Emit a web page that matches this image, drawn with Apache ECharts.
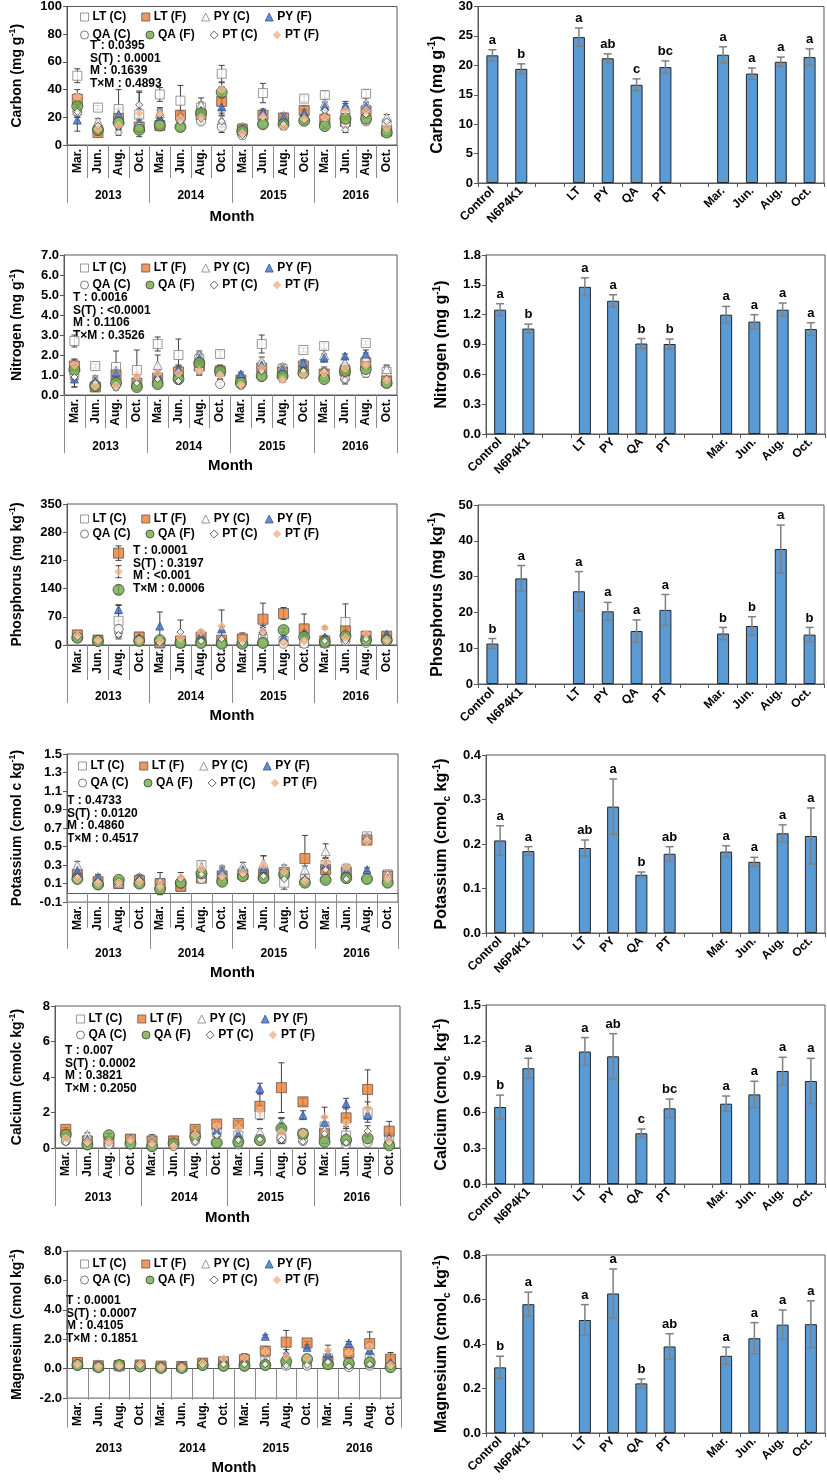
<!DOCTYPE html>
<html><head><meta charset="utf-8">
<script src="https://cdn.jsdelivr.net/npm/echarts@6/dist/echarts.min.js"></script>
<style>
html,body{margin:0;padding:0;background:#fff;}
#wrap{position:relative;width:827px;height:1480px;overflow:hidden;}
.p{position:absolute;}
</style></head><body>
<div id="wrap"></div>
<script>
// ---------------- DATA ----------------
const SERIES = ['LT (C)','LT (F)','PY (C)','PY (F)','QA (C)','QA (F)','PT (C)','PT (F)'];
const MONTH_CATS = ['Mar.','Jun.','Aug.','Oct.','Mar.','Jun.','Aug.','Oct.','Mar.','Jun.','Aug.','Oct.','Mar.','Jun.','Aug.','Oct.'];
const YEARS = ['2013','2014','2015','2016'];

// rows follow SERIES order, columns follow MONTH_CATS
const carbonMeans = [
 [50,27,26,22,36.5,32,27,51.5,12,37.5,17,33.5,36,22,37,15],
 [33,9,19,13,14,21.5,22,31.5,11,21.5,19.5,25,18.5,17,24.7,10],
 [25,17,22,15,23,20,29,18,13,22,21,22,30,26,30,20],
 [18,12,22,16,20,18,25,27.5,12,24,20,23.5,28,28.5,28,12],
 [24,12,17,13,15,13,17,13,7,15,14,18,16,15,17,10],
 [28,11,16,11,14,13,23,38,10,15,15,17.5,13.7,19,19,9],
 [24,14,9,29,22,17,19,17,7,20,15,18,25,11,22,17],
 [35,11.5,14,23,23,19,20,40,8.5,20.5,13,19,20,25,25,12.5]
];
const carbonErrs = [
 [5,1.5,14,16,5,11,4,6,3,7,3,2,3,5,3,3],
 [4,2,4,3,2,3,3,6,2,3,3,3,3,3,3,2],
 [5,2,4,3,4,3,5,5,2,3,2,3,4,4,4,2],
 [8,2,4,3,4,3,4,6,2,2,2,2,3,3,3,2],
 [3,2,3,2,2,2,2,4,1,2,2,2,2,2,2,1],
 [3,2,3,2,2,2,3,4,1,2,2,2,2,2,2,1],
 [4,2,2,10,3,3,3,4,1,3,2,2,3,2,3,2],
 [5,2,3,3,3,3,3,5,1,3,2,2,3,3,4,2]
];
const nitrogenMeans = [
 [2.7,1.45,1.4,1.25,2.55,2.0,1.8,2.05,0.7,2.55,1.3,2.25,2.45,1.3,2.6,1.15],
 [1.45,0.4,1.0,0.6,0.85,1.15,1.45,1.2,0.75,1.35,1.15,1.45,1.05,1.2,1.6,0.7],
 [1.0,0.8,1.2,0.8,1.5,1.2,2.0,1.3,0.9,1.7,1.4,1.6,2.0,1.6,1.9,1.3],
 [0.8,0.7,1.1,0.65,1.0,1.3,1.85,1.25,1.05,1.5,1.3,1.6,1.85,1.95,2.05,0.8],
 [1.0,0.5,0.5,0.5,0.6,0.75,1.3,0.55,0.5,0.9,0.85,1.05,0.9,0.8,1.1,0.6],
 [1.25,0.45,0.6,0.4,0.55,0.8,1.6,1.2,0.6,0.95,0.95,1.1,0.8,1.2,1.3,0.6],
 [0.9,0.6,0.35,0.6,0.8,0.7,1.2,1.0,0.5,1.2,0.75,1.2,1.2,0.75,1.5,0.8],
 [1.5,0.45,0.45,0.95,1.1,1.1,1.2,1.0,0.5,1.35,0.75,1.0,1.1,1.35,1.5,0.75]
];
const nitrogenErrs = [
 [0.3,0.1,0.8,1.0,0.35,0.8,0.3,0.15,0.15,0.45,0.2,0.1,0.15,0.3,0.1,0.3],
 [0.3,0.1,0.2,0.15,0.2,0.3,0.3,0.2,0.1,0.2,0.2,0.15,0.2,0.2,0.2,0.1],
 [0.3,0.15,0.2,0.15,0.5,0.2,0.2,0.2,0.15,0.2,0.15,0.15,0.3,0.2,0.2,0.2],
 [0.4,0.15,0.2,0.15,0.2,0.2,0.2,0.2,0.1,0.2,0.15,0.15,0.2,0.1,0.2,0.15],
 [0.2,0.1,0.1,0.1,0.1,0.1,0.2,0.1,0.1,0.15,0.1,0.1,0.1,0.1,0.2,0.1],
 [0.2,0.1,0.1,0.1,0.1,0.1,0.2,0.2,0.1,0.15,0.1,0.1,0.1,0.1,0.2,0.1],
 [0.5,0.1,0.1,0.2,0.2,0.1,0.2,0.2,0.1,0.2,0.1,0.1,0.2,0.2,0.3,0.2],
 [0.3,0.1,0.1,0.2,0.2,0.15,0.2,0.2,0.1,0.2,0.1,0.1,0.2,0.2,0.2,0.15]
];
const phosphorusMeans = [
 [25,13,60,20,5,5,10,5,15,15,10,5,5,57,15,15],
 [25,12,228,20,5,10,20,12,15,64,78,40,10,35,22,22],
 [22,10,40,18,10,10,10,10,5,20,10,10,10,20,20,20],
 [22,10,88,18,47,10,25,40,5,40,20,30,20,25,20,27],
 [18,8,40,10,5,5,5,3,3,5,3,3,3,10,5,10],
 [18,10,137,10,12,5,5,3,3,5,37,20,8,22,12,12],
 [20,10,25,12,5,32,10,15,5,30,8,10,10,10,15,10],
 [24,12,182,12,10,17,33,47,12,35,5,10,43,18,28,12]
];
const phosphorusErrs = [
 [3,2,40,3,3,3,4,3,15,5,10,3,3,45,4,4],
 [3,2,18,3,3,3,5,5,3,40,15,37,4,5,4,4],
 [3,2,20,3,4,3,4,4,2,5,3,3,3,4,4,4],
 [3,2,10,3,35,3,4,5,2,8,5,5,4,4,4,4],
 [2,1,10,2,2,2,2,1,1,2,1,1,1,3,2,2],
 [2,1,10,2,3,2,2,1,1,2,5,5,2,4,3,3],
 [3,2,10,3,3,30,4,4,2,8,3,3,3,3,4,3],
 [3,2,15,3,3,4,4,40,3,8,2,3,3,3,4,3]
];
const potassiumMeans = [
 [0.2,0.12,0.1,0.14,0.1,0.07,0.3,0.19,0.21,0.22,0.11,0.15,0.3,0.25,0.61,0.2],
 [0.2,0.12,0.1,0.13,0.1,0.07,0.16,0.18,0.2,0.2,0.22,0.37,0.25,0.22,0.57,0.18],
 [0.3,0.17,0.13,0.17,0.12,0.14,0.28,0.26,0.29,0.32,0.27,0.25,0.45,0.27,0.6,0.2],
 [0.24,0.16,0.12,0.16,0.08,0.12,0.2,0.24,0.25,0.26,0.24,0.15,0.3,0.24,0.25,0.16],
 [0.15,0.09,0.1,0.1,0.05,0.1,0.15,0.13,0.18,0.16,0.2,0.12,0.15,0.15,0.15,0.11],
 [0.15,0.09,0.14,0.1,0.04,0.11,0.21,0.12,0.18,0.16,0.2,0.11,0.14,0.16,0.15,0.11],
 [0.17,0.12,0.1,0.14,0.07,0.15,0.2,0.17,0.2,0.18,0.15,0.14,0.25,0.15,0.58,0.15],
 [0.15,0.11,0.11,0.12,0.07,0.17,0.26,0.18,0.22,0.3,0.23,0.13,0.33,0.28,0.56,0.15]
];
const potassiumErrs = [
 [0.03,0.02,0.02,0.02,0.12,0.02,0.04,0.03,0.03,0.03,0.07,0.03,0.04,0.03,0.03,0.03],
 [0.03,0.02,0.02,0.02,0.05,0.02,0.03,0.03,0.03,0.03,0.03,0.25,0.04,0.03,0.03,0.03],
 [0.04,0.03,0.02,0.03,0.02,0.03,0.04,0.03,0.04,0.08,0.03,0.04,0.08,0.03,0.03,0.03],
 [0.04,0.03,0.02,0.03,0.02,0.03,0.03,0.03,0.03,0.03,0.03,0.03,0.04,0.03,0.02,0.03],
 [0.02,0.02,0.02,0.02,0.02,0.02,0.02,0.02,0.02,0.02,0.02,0.02,0.02,0.02,0.02,0.02],
 [0.02,0.02,0.02,0.02,0.02,0.02,0.03,0.02,0.02,0.02,0.02,0.02,0.02,0.02,0.02,0.02],
 [0.03,0.02,0.02,0.02,0.02,0.02,0.03,0.02,0.03,0.03,0.02,0.02,0.03,0.03,0.03,0.02],
 [0.03,0.02,0.02,0.02,0.02,0.05,0.03,0.03,0.03,0.1,0.03,0.02,0.05,0.03,0.03,0.02]
];
const calciumMeans = [
 [0.8,0.4,0.4,0.5,0.4,0.4,0.8,1.0,0.7,1.9,0.55,0.8,1.2,0.7,2.0,0.6],
 [1.05,0.4,0.35,0.5,0.4,0.4,1.05,1.35,1.38,2.35,3.4,2.6,0.8,1.7,3.3,0.95],
 [0.6,0.75,0.5,0.55,0.5,0.35,0.9,0.9,0.6,0.9,1.4,0.8,1.0,0.6,1.9,0.5],
 [0.6,0.5,0.4,0.5,0.35,0.3,0.7,1.0,0.8,3.35,1.25,1.85,1.45,2.5,1.85,0.6],
 [0.4,0.15,0.2,0.2,0.1,0.1,0.4,0.3,0.2,0.4,0.55,0.4,0.5,0.2,0.3,0.2],
 [0.75,0.2,0.72,0.25,0.1,0.25,0.65,0.3,0.35,0.45,1.1,0.8,0.35,0.45,0.55,0.15],
 [0.3,0.25,0.3,0.4,0.2,0.15,0.35,0.7,0.45,0.5,0.45,0.35,0.8,0.3,0.95,0.3],
 [0.55,0.35,0.35,0.45,0.25,0.1,0.75,1.25,1.1,2.1,0.9,0.85,1.75,1.4,2.2,0.45]
];
const calciumErrs = [
 [0.1,0.1,0.1,0.1,0.1,0.1,0.15,0.15,0.15,0.3,0.3,0.15,0.5,0.5,0.3,0.2],
 [0.1,0.1,0.1,0.1,0.35,0.1,0.15,0.15,0.15,0.7,1.4,0.2,0.3,0.6,1.1,0.55],
 [0.1,0.1,0.1,0.1,0.1,0.1,0.15,0.15,0.1,0.2,0.3,0.15,0.3,0.2,0.3,0.1],
 [0.1,0.1,0.1,0.1,0.1,0.1,0.15,0.15,0.1,0.3,0.4,0.25,0.3,0.3,0.4,0.1],
 [0.1,0.05,0.05,0.05,0.05,0.05,0.1,0.05,0.05,0.1,0.3,0.1,0.1,0.1,0.1,0.05],
 [0.1,0.05,0.1,0.05,0.05,0.05,0.1,0.05,0.05,0.1,0.6,0.15,0.1,0.1,0.15,0.05],
 [0.1,0.05,0.1,0.1,0.05,0.05,0.1,0.1,0.1,0.2,0.2,0.1,0.2,0.1,0.3,0.1],
 [0.1,0.1,0.1,0.1,0.05,0.05,0.15,0.15,0.15,0.3,0.3,0.15,0.55,0.3,0.4,0.1]
];
const magnesiumMeans = [
 [0.4,0.2,0.25,0.25,0.15,0.15,0.35,0.5,0.5,0.5,0.3,0.4,0.7,0.4,0.7,0.5],
 [0.42,0.2,0.2,0.25,0.18,0.15,0.38,0.45,0.62,1.2,1.8,1.75,0.5,1.1,1.7,0.65],
 [0.35,0.3,0.3,0.3,0.15,0.15,0.4,0.5,0.5,0.5,0.5,0.5,0.6,0.3,0.7,0.4],
 [0.3,0.25,0.2,0.25,0.1,0.12,0.35,0.55,0.5,2.2,1.0,1.45,1.0,1.75,1.25,0.4],
 [0.2,0.1,0.1,0.1,0.05,0.05,0.2,0.15,0.15,0.2,0.2,0.2,0.3,0.1,0.2,0.1],
 [0.25,0.1,0.25,0.15,0.05,0.05,0.25,0.2,0.2,0.25,0.5,0.65,0.3,0.35,0.42,0.1],
 [0.25,0.15,0.15,0.2,0.1,0.1,0.25,0.3,0.3,0.3,0.2,0.25,0.45,0.15,0.3,0.15],
 [0.3,0.15,0.2,0.3,0.1,0.1,0.38,0.7,0.75,1.15,0.85,0.7,1.25,1.1,1.5,0.25]
];
const magnesiumErrs = [
 [0.05,0.05,0.05,0.05,0.05,0.05,0.05,0.1,0.1,0.2,0.1,0.1,0.2,0.2,0.2,0.1],
 [0.05,0.05,0.05,0.05,0.05,0.05,0.05,0.1,0.4,0.3,0.8,0.1,0.2,0.3,0.8,0.45],
 [0.05,0.05,0.05,0.05,0.05,0.05,0.05,0.1,0.1,0.1,0.1,0.1,0.1,0.1,0.1,0.1],
 [0.05,0.05,0.05,0.05,0.05,0.05,0.05,0.1,0.1,0.1,0.3,0.1,0.2,0.1,0.2,0.1],
 [0.03,0.03,0.03,0.03,0.03,0.03,0.03,0.05,0.05,0.05,0.05,0.05,0.05,0.05,0.05,0.05],
 [0.05,0.03,0.05,0.03,0.03,0.03,0.05,0.05,0.05,0.05,0.3,0.1,0.05,0.1,0.1,0.05],
 [0.05,0.03,0.03,0.05,0.03,0.03,0.05,0.05,0.05,0.05,0.05,0.05,0.1,0.05,0.1,0.05],
 [0.05,0.05,0.05,0.05,0.03,0.03,0.05,0.1,0.1,0.2,0.2,0.1,0.35,0.2,0.3,0.1]
];

const STATS = [
 ['T : 0.0395','S(T) : 0.0001','M : 0.1639','T×M : 0.4893'],
 ['T : 0.0016','S(T) : <0.0001','M : 0.1106','T×M : 0.3526'],
 ['T : 0.0001','S(T) : 0.3197','M : <0.001','T×M : 0.0006'],
 ['T : 0.4733','S(T) : 0.0120','M : 0.4860','T×M : 0.4517'],
 ['T : 0.007','S(T) : 0.0002','M : 0.3821','T×M : 0.2050'],
 ['T : 0.0001','S(T) : 0.0007','M : 0.4105','T×M : 0.1851']
];
const LEFT_YNAMES = ['Carbon (mg g{sup|-1})','Nitrogen (mg g{sup|-1})','Phosphorus (mg kg{sup|-1})','Potassium (cmol c kg{sup|-1})','Calcium (cmolc kg{sup|-1})','Magnesium (cmol kg{sup|-1})'];
const LEFT_YAXES = [
 {min:0,max:100,interval:20,dec:0},
 {min:0,max:7,interval:1,dec:1},
 {min:0,max:350,interval:70,dec:0},
 {min:-0.1,max:1.5,interval:0.2,dec:1},
 {min:0,max:8,interval:2,dec:0},
 {min:-2,max:8,interval:2,dec:1}
];

const BAR_CATS = ['Control','N6P4K1','','LT','PY','QA','PT',' ','Mar.','Jun.','Aug.','Oct.'];
const carbonBar = [21.7,19.4,null,24.8,21.2,16.7,19.7,null,21.8,18.6,20.6,21.4];
const carbonBarErr = [0.95,0.85,null,1.55,0.75,1.0,1.05,null,1.35,0.95,0.8,1.4];
const carbonLetters = ['a','b','','a','ab','c','bc','','a','a','a','a'];
const nitrogenBar = [1.25,1.06,null,1.48,1.34,0.91,0.905,null,1.20,1.13,1.25,1.055];
const nitrogenBarErr = [0.06,0.045,null,0.09,0.06,0.05,0.05,null,0.083,0.07,0.067,0.064];
const nitrogenLetters = ['a','b','','a','a','b','b','','a','a','a','a'];
const phosphorusBar = [11.3,29.5,null,25.9,20.3,14.8,20.7,null,14.1,16.2,37.7,13.8];
const phosphorusBarErr = [1.4,3.6,null,5.5,2.5,3.1,4.3,null,1.7,2.6,6.7,2.0];
const phosphorusLetters = ['b','a','','a','a','a','a','','b','b','a','b'];
const potassiumBar = [0.208,0.184,null,0.191,0.284,0.131,0.178,null,0.183,0.160,0.224,0.218];
const potassiumBarErr = [0.033,0.01,null,0.018,0.062,0.006,0.016,null,0.013,0.01,0.019,0.063];
const potassiumLetters = ['a','a','','ab','a','b','ab','','a','a','a','a'];
const calciumBar = [0.645,0.97,null,1.11,1.07,0.425,0.634,null,0.673,0.751,0.947,0.863];
const calciumBarErr = [0.1,0.084,null,0.117,0.19,0.036,0.078,null,0.064,0.11,0.115,0.19];
const calciumLetters = ['b','a','','a','ab','c','bc','','a','a','a','a'];
const magnesiumBar = [0.295,0.579,null,0.508,0.627,0.223,0.389,null,0.347,0.426,0.487,0.489];
const magnesiumBarErr = [0.05,0.054,null,0.069,0.11,0.02,0.057,null,0.039,0.07,0.066,0.105];
const magnesiumLetters = ['b','a','','a','a','b','ab','','a','a','a','a'];
const RIGHT_YNAMES = ['Carbon (mg g{sup|-1})','Nitrogen (mg g{sup|-1})','Phosphorus (mg kg{sup|-1})','Potassium (cmol{sub|c} kg{sup|-1})','Calcium (cmol{sub|c} kg{sup|-1})','Magnesium (cmol{sub|c} kg{sup|-1})'];
const RIGHT_YAXES = [
 {min:0,max:30,interval:5,dec:0},
 {min:0,max:1.8,interval:0.3,dec:1},
 {min:0,max:50,interval:10,dec:0},
 {min:0,max:0.4,interval:0.1,dec:1},
 {min:0,max:1.5,interval:0.3,dec:1},
 {min:0,max:0.8,interval:0.2,dec:1}
];

const LEFT_MEANS = [carbonMeans,nitrogenMeans,phosphorusMeans,potassiumMeans,calciumMeans,magnesiumMeans];
const LEFT_ERRS = [carbonErrs,nitrogenErrs,phosphorusErrs,potassiumErrs,calciumErrs,magnesiumErrs];
const RIGHT_VALS = [carbonBar,nitrogenBar,phosphorusBar,potassiumBar,calciumBar,magnesiumBar];
const RIGHT_ERRS = [carbonBarErr,nitrogenBarErr,phosphorusBarErr,potassiumBarErr,calciumBarErr,magnesiumBarErr];
const RIGHT_LETTERS = [carbonLetters,nitrogenLetters,phosphorusLetters,potassiumLetters,calciumLetters,magnesiumLetters];

// ---------------- LAYOUT / STYLE ----------------
const FONT = '"Liberation Sans", Arial, sans-serif';
const AXC = '#595959';
const LEFT_LAYOUT = [
 {top:0,   h:245, g:[60,13,6,100],  mTick:33, yTick:58, yMargin:45, mGap:64, nameGap:41, leg:[80,11,29], st:[90,40]},
 {top:245, h:250, g:[56,13,10,100], mTick:33, yTick:58, yMargin:46, mGap:63, nameGap:38, leg:[80,17,34], st:[73,47]},
 {top:495, h:245, g:[60,13,9,95],   mTick:35, yTick:58, yMargin:46, mGap:63, nameGap:41, leg:[80,18,33], st:[133,50]},
 {top:740, h:245, g:[57,12,14,78],  mTick:35, yTick:56, yMargin:46, mGap:62, nameGap:41, leg:[78,20,37], st:[67,55]},
 {top:985, h:245, g:[47,10,21,82],  mTick:28, yTick:58, yMargin:44, mGap:62, nameGap:29, leg:[76,28,44], st:[65,60]},
 {top:1230,h:250, g:[60,9,21,41],   mTick:31, yTick:59, yMargin:45, mGap:56, nameGap:41, leg:[80,28,44], st:[66,65]}
];
const RIGHT_LAYOUT = [
 {top:0,   h:245, g:[68,3,6,62],   nameGap:24},
 {top:245, h:250, g:[76,2,10,61],  nameGap:32},
 {top:495, h:245, g:[68,3,10,56],  nameGap:24},
 {top:740, h:245, g:[76,2,15,52],  nameGap:32},
 {top:985, h:245, g:[76,2,20,46],  nameGap:32},
 {top:1230,h:250, g:[76,2,25,47],  nameGap:32}
];
const SYM = [
 {symbol:'rect', size:9, style:{color:'#ffffff', borderColor:'#7f7f7f', borderWidth:1}},
 {symbol:'rect', size:10, style:{color:'#ED7D31', borderColor:'#595959', borderWidth:1}},
 {symbol:'triangle', size:9, style:{color:'#ffffff', borderColor:'#7f7f7f', borderWidth:1}},
 {symbol:'triangle', size:8, style:{color:'#4472C4', borderColor:'#2F5597', borderWidth:1}},
 {symbol:'circle', size:9, style:{color:'#ffffff', borderColor:'#595959', borderWidth:1}},
 {symbol:'circle', size:11, style:{color:'#70AD47', borderColor:'#404040', borderWidth:1}},
 {symbol:'diamond', size:7, style:{color:'#ffffff', borderColor:'#404040', borderWidth:1}},
 {symbol:'diamond', size:8, style:{color:'#F4B183', borderColor:'#F8CBAD', borderWidth:1}}
];

const wrap = document.getElementById('wrap');
function mkDiv(left, top, w, h) {
  const d = document.createElement('div');
  d.className = 'p';
  d.style.left = left + 'px'; d.style.top = top + 'px';
  d.style.width = w + 'px'; d.style.height = h + 'px';
  wrap.appendChild(d);
  return d;
}
function nameStyle(size) {
  const sm = Math.round(size * 0.62);
  return {
    fontSize: size, fontWeight: 'bold', color: '#000', fontFamily: FONT, lineHeight: size + 4,
    rich: {
      sup: {fontSize: sm, fontWeight: 'bold', color: '#000', fontFamily: FONT, verticalAlign: 'top', lineHeight: size + 4},
      sub: {fontSize: sm, fontWeight: 'bold', color: '#000', fontFamily: FONT, verticalAlign: 'bottom', lineHeight: size + 4}
    }
  };
}
function yAxisOf(Y, name, gap, nameSize) {
  return {
    type: 'value', min: Y.min, max: Y.max, interval: Y.interval,
    axisLine: {show: true, onZero: false, lineStyle: {color: AXC, width: 1}},
    axisTick: {show: true, length: 4, lineStyle: {color: AXC}},
    splitLine: {show: false},
    axisLabel: {fontSize: 13, fontWeight: 'bold', color: '#000', fontFamily: FONT, margin: 5,
      formatter: v => Number(v).toFixed(Y.dec)},
    name: name, nameLocation: 'middle', nameRotate: 90, nameGap: gap,
    nameTextStyle: nameStyle(nameSize)
  };
}
function leftErr(params, api) {
  const x = api.value(0), m = api.value(1), e = api.value(2);
  if (!(e > 0)) return;
  const a = api.coord([x, m + e]), b = api.coord([x, m - e]);
  const cx = a[0], c = 3;
  const st = {stroke: '#404040', lineWidth: 1};
  return {type: 'group', children: [
    {type: 'line', shape: {x1: cx, y1: a[1], x2: cx, y2: b[1]}, style: st},
    {type: 'line', shape: {x1: cx - c, y1: a[1], x2: cx + c, y2: a[1]}, style: st},
    {type: 'line', shape: {x1: cx - c, y1: b[1], x2: cx + c, y2: b[1]}, style: st}
  ]};
}

function drawLeft(k) {
  const L = LEFT_LAYOUT[k], Y = LEFT_YAXES[k];
  const means = LEFT_MEANS[k], errs = LEFT_ERRS[k];
  const chart = echarts.init(mkDiv(0, L.top, 410, L.h));
  const series = [];
  SERIES.forEach((name, s) => {
    series.push({type: 'custom', name: 'err' + s, clip: true, z: 2, silent: true,
      renderItem: leftErr, encode: {x: 0, y: 1},
      data: means[s].map((v, i) => [i, v, errs[s][i]])});
    series.push({type: 'scatter', name: name, data: means[s], symbol: SYM[s].symbol,
      symbolSize: SYM[s].size, itemStyle: SYM[s].style, z: 3, silent: true});
  });
  const legItems = SERIES.map((n, s) => ({name: n, icon: SYM[s].symbol, itemStyle: SYM[s].style}));
  const legBase = {orient: 'horizontal', left: L.leg[0], padding: 0, itemWidth: 8, itemHeight: 8,
    itemGap: 15, selectedMode: false,
    textStyle: {fontSize: 12, fontWeight: 'bold', color: '#000', fontFamily: FONT, width: 55, padding: [0,0,0,-1]}};
  const statLines = STATS[k].map((t, j) => ({type: 'text', x: L.st[0], y: L.st[1] + j * 12.5, silent: true,
    style: {text: t, fill: '#000', font: 'bold 12px ' + FONT, align: 'left', verticalAlign: 'top'}}));
  chart.setOption({
    animation: false,
    grid: {left: L.g[0], right: L.g[1], top: L.g[2], bottom: L.g[3], show: true, borderColor: AXC, borderWidth: 1, backgroundColor: 'transparent'},
    legend: [
      Object.assign({}, legBase, {top: L.leg[1], data: legItems.slice(0, 4)}),
      Object.assign({}, legBase, {top: L.leg[2], data: legItems.slice(4)})
    ],
    xAxis: [
      {type: 'category', data: MONTH_CATS, position: 'bottom', boundaryGap: true,
        axisLine: {show: true, onZero: true, onZeroAxisIndex: 0, lineStyle: {color: AXC}},
        axisTick: {show: true, interval: 0, length: L.mTick, lineStyle: {color: '#8c8c8c'}},
        axisLabel: {interval: 0, rotate: 90, margin: 4, fontSize: 12, fontWeight: 'bold', color: '#000', fontFamily: FONT},
        splitLine: {show: false}},
      {type: 'category', data: YEARS, position: 'bottom', boundaryGap: true,
        axisLine: {show: false, onZero: true, onZeroAxisIndex: 0},
        axisTick: {show: true, interval: 0, length: L.yTick, lineStyle: {color: '#8c8c8c'}},
        axisLabel: {interval: 0, margin: L.yMargin, fontSize: 12, fontWeight: 'bold', color: '#000', fontFamily: FONT},
        name: 'Month', nameLocation: 'middle', nameGap: L.mGap,
        nameTextStyle: {fontSize: 15, fontWeight: 'bold', color: '#000', fontFamily: FONT}}
    ],
    yAxis: yAxisOf(Y, LEFT_YNAMES[k], L.nameGap, 14),
    graphic: statLines,
    series: series
  });
}

function drawRight(k) {
  const L = RIGHT_LAYOUT[k], Y = RIGHT_YAXES[k];
  const vals = RIGHT_VALS[k], errs = RIGHT_ERRS[k], lets = RIGHT_LETTERS[k];
  const chart = echarts.init(mkDiv(410, L.top, 417, L.h));
  const errData = [];
  vals.forEach((v, i) => { if (v != null) errData.push([i, v, errs[i]]); });
  chart.setOption({
    animation: false,
    grid: {left: L.g[0], right: L.g[1], top: L.g[2], bottom: L.g[3], show: true, borderColor: AXC, borderWidth: 1, backgroundColor: 'transparent'},
    xAxis: {type: 'category', data: BAR_CATS, boundaryGap: true,
      axisLine: {show: true, lineStyle: {color: AXC}},
      axisTick: {show: true, interval: 0, length: 4, lineStyle: {color: AXC}},
      axisLabel: {interval: 0, rotate: 45, margin: 6, fontSize: 12, fontWeight: 'bold', color: '#000', fontFamily: FONT}},
    yAxis: yAxisOf(Y, RIGHT_YNAMES[k], L.nameGap, 16),
    series: [
      {type: 'bar', data: vals, barWidth: 12, silent: true,
        itemStyle: {color: '#5B9BD5', borderColor: '#262626', borderWidth: 1}},
      {type: 'custom', silent: true, z: 3, encode: {x: 0, y: 1}, data: errData,
        renderItem: function (params, api) {
          const i = api.value(0), m = api.value(1), e = api.value(2);
          const a = api.coord([i, m + e]), b = api.coord([i, m - e]);
          const cx = a[0], c = 4;
          const st = {stroke: '#808080', lineWidth: 1.5};
          return {type: 'group', children: [
            {type: 'line', shape: {x1: cx, y1: a[1], x2: cx, y2: b[1]}, style: st},
            {type: 'line', shape: {x1: cx - c, y1: a[1], x2: cx + c, y2: a[1]}, style: st},
            {type: 'line', shape: {x1: cx - c, y1: b[1], x2: cx + c, y2: b[1]}, style: st},
            {type: 'text', x: cx, y: a[1] - 3,
              style: {text: lets[i], fill: '#000', font: 'bold 13px ' + FONT, align: 'center', verticalAlign: 'bottom'}}
          ]};
        }}
    ]
  });
}

for (let k = 0; k < 6; k++) { drawLeft(k); drawRight(k); }
</script>
</body></html>
